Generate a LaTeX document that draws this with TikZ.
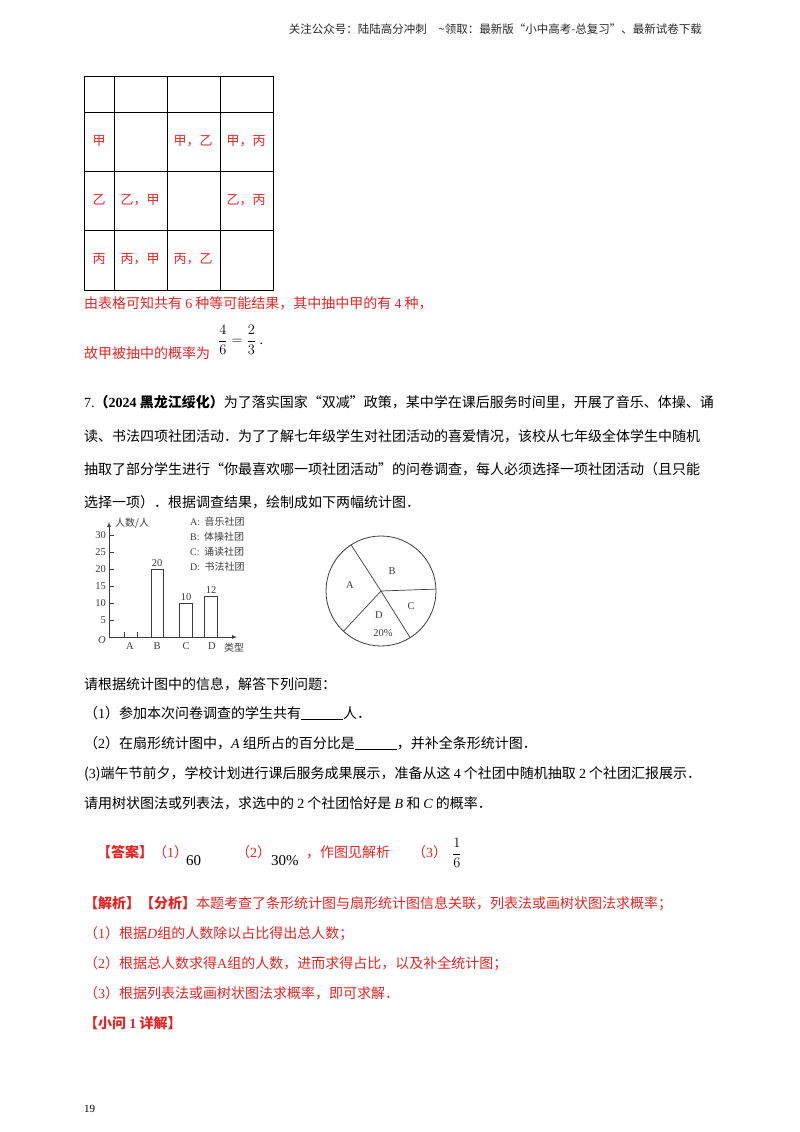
\documentclass[tikz,border=0pt]{standalone}
\usepackage{fontspec}
\setmainfont{Noto Sans CJK SC}
\newfontfamily\ser{Liberation Serif}
\definecolor{ans}{RGB}{230,35,35}
\definecolor{hdr}{RGB}{40,40,40}
\definecolor{chartc}{RGB}{60,60,60}
\begin{document}
\begin{tikzpicture}[x=1pt,y=-1pt,
  txt/.style={anchor=base west,inner sep=0,font=\fontsize{14}{16}\selectfont},
  rtxt/.style={txt,text=ans},
  cell/.style={anchor=center,inner sep=0,text=ans,font=\fontsize{13}{16}\selectfont},
  sm/.style={inner sep=0,font=\fontsize{10.5}{12}\selectfont\ser,text=chartc},
  smc/.style={inner sep=0,font=\fontsize{10}{12}\selectfont,text=chartc}]
\useasboundingbox (0,0) rectangle (800,1132);
\node[txt,anchor=base east,text=hdr,font=\fontsize{11.5}{13}\selectfont] (hd) at (702,34) {关注公众号：陆陆高分冲刺\quad\textasciitilde 领取：最新版“小中高考-总复习”、最新试卷下载};
% table
\draw[line width=0.8] (84,76) rectangle (273,290);
\foreach \x in {114,167,220} \draw[line width=0.8] (\x,76) -- (\x,290);
\foreach \y in {112,171,230} \draw[line width=0.8] (84,\y) -- (273,\y);
\node[cell] (c1) at (99,141) {甲};
\node[cell] (c2) at (193,141) {甲，乙};
\node[cell] (c3) at (246,141) {甲，丙};
\node[cell] (c4) at (99,200) {乙};
\node[cell] (c5) at (140,200) {乙，甲};
\node[cell] (c6) at (246,200) {乙，丙};
\node[cell] (c7) at (99,259) {丙};
\node[cell] (c8) at (140,259) {丙，甲};
\node[cell] (c9) at (193,259) {丙，乙};
\node[rtxt] (t1) at (84,308) {由表格可知共有 {\ser 6} 种等可能结果，其中抽中甲的有 {\ser 4} 种，};
\node[rtxt] (t2) at (84,358) {故甲被抽中的概率为};
\node[txt,anchor=west,font=\fontsize{14}{16}\selectfont\ser] (fr) at (218,340) {$\displaystyle\frac{4}{6}=\frac{2}{3}$ .};
\node[txt] (q1) at (84,407) {{\ser 7.}\textbf{（{\ser\bfseries 2024} 黑龙江绥化）}为了落实国家“双减”政策，某中学在课后服务时间里，开展了音乐、体操、诵};
\node[txt] (q2) at (84,441) {读、书法四项社团活动．为了了解七年级学生对社团活动的喜爱情况，该校从七年级全体学生中随机};
\node[txt] (q3) at (84,474) {抽取了部分学生进行“你最喜欢哪一项社团活动”的问卷调查，每人必须选择一项社团活动（且只能};
\node[txt] (q4) at (84,507) {选择一项）．根据调查结果，绘制成如下两幅统计图．};
% bar chart
\coordinate (O) at (109,637);
\draw[chartc,line width=0.7,-latex] (O) -- (237,637);
\draw[chartc,line width=0.7,-latex] (O) -- (109,522);
\foreach \v/\lab in {1/5,2/10,3/15,4/20,5/25,6/30}{
  \draw[chartc] (109,637-17*\v) -- (114,637-17*\v);
  \node[sm,anchor=east] at (106,637-17*\v) {\lab};}
\node[sm,anchor=east,font=\fontsize{10.5}{12}\selectfont\ser\itshape] (o) at (106,640) {O};
\draw[chartc] (124,637) -- (124,632) (137,637) -- (137,632);
\draw[chartc,line width=0.8] (151,637) rectangle (163,569);
\draw[chartc,line width=0.8] (179,637) rectangle (192,603);
\draw[chartc,line width=0.8] (204,637) rectangle (217,596);
\node[sm] at (157,563) {20};
\node[sm] at (186,597) {10};
\node[sm] at (211,590) {12};
\node[sm] at (130,646) {A};
\node[sm] at (157,646) {B};
\node[sm] at (186,646) {C};
\node[sm] at (212,646) {D};
\node[smc] at (234,648) {类型};
\node[smc,anchor=west] at (115,523) {人数/人};
\foreach \l/\t/\y in {A/音乐社团/522,B/体操社团/537,C/诵读社团/552,D/书法社团/567}
  \node[smc,anchor=west] at (190,\y) {{\ser \l:}\ \ \t};
% pie
\coordinate (P) at (381,591);
\draw[chartc,line width=0.8] (P) circle (55);
\draw[chartc,line width=0.7] (P) -- ++(-123:55) (P) -- ++(-2:55) (P) -- ++(58:55) (P) -- ++(133:55);
\node[sm] at (350,585) {A};
\node[sm] at (392,571) {B};
\node[sm] at (411,606) {C};
\node[sm] at (379,615) {D};
\node[sm] at (383,633) {20\%};
\node[txt] (r0) at (84,689) {请根据统计图中的信息，解答下列问题：};
\node[txt] (r1) at (84,718) {（{\ser 1}）参加本次问卷调查的学生共有\underline{\hspace{42pt}}人．};
\node[txt] (r2) at (84,748) {（{\ser 2}）在扇形统计图中，{\ser\itshape A} 组所占的百分比是\underline{\hspace{42pt}}，并补全条形统计图．};
\node[txt] (r3) at (84,778) {({\ser 3})端午节前夕，学校计划进行课后服务成果展示，准备从这 {\ser 4} 个社团中随机抽取 {\ser 2} 个社团汇报展示．};
\node[txt] (r4) at (84,808) {请用树状图法或列表法，求选中的 {\ser 2} 个社团恰好是 {\ser\itshape B} 和 {\ser\itshape C} 的概率．};
% answer
\node[rtxt] (a0) at (97,857) {\textbf{【答案】}（{\ser 1}）};
\node[txt,font=\fontsize{15}{16}\selectfont\ser] (a1) at (186,865) {60};
\node[rtxt] (a2) at (236,857) {（{\ser 2}）};
\node[txt,font=\fontsize{15}{16}\selectfont\ser] (a3) at (271,865) {30\%};
\node[rtxt] (a4) at (306,857) {，作图见解析};
\node[rtxt] (a5) at (412,857) {（{\ser 3}）};
\node[txt,anchor=west,font=\fontsize{15}{16}\selectfont\ser] (a6) at (452,853) {$\displaystyle\frac{1}{6}$};
\node[rtxt] (j0) at (84,908) {\textbf{【解析】【分析】}本题考查了条形统计图与扇形统计图信息关联，列表法或画树状图法求概率；};
\node[rtxt] (j1) at (84,938) {（{\ser 1}）根据{\ser\itshape D}组的人数除以占比得出总人数；};
\node[rtxt] (j2) at (84,968) {（{\ser 2}）根据总人数求得{\ser A}组的人数，进而求得占比，以及补全统计图；};
\node[rtxt] (j3) at (84,998) {（{\ser 3}）根据列表法或画树状图法求概率，即可求解．};
\node[rtxt] (j4) at (84,1028) {\textbf{【小问 {\ser\bfseries 1} 详解】}};
\node[txt,font=\fontsize{11}{13}\selectfont\ser] (pg) at (84,1112) {19};
\end{tikzpicture}
\end{document}
